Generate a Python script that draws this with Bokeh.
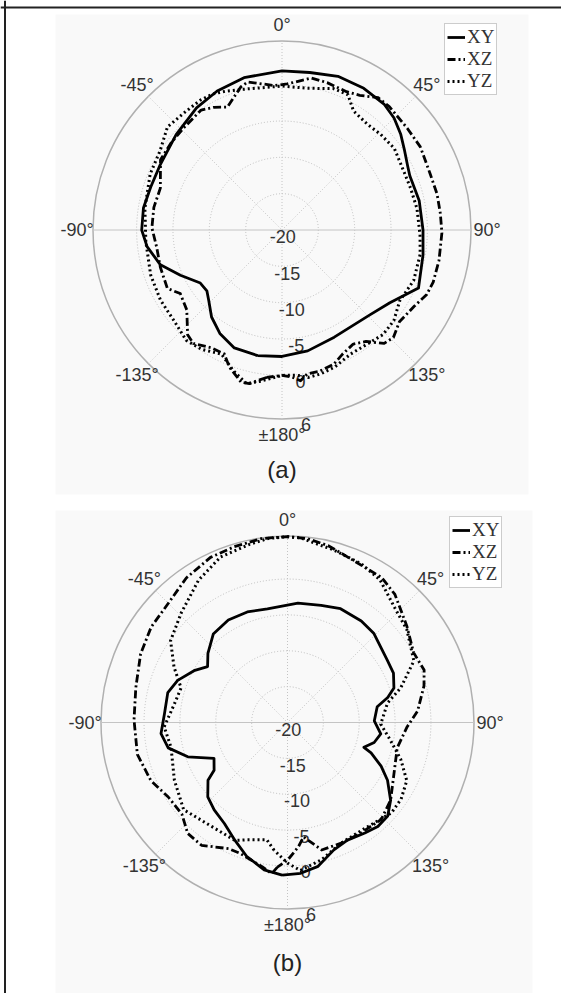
import numpy as np
from bokeh.plotting import figure
from bokeh.models import Range1d, ColumnDataSource, Legend, LegendItem, Span
from bokeh.core.properties import value
from bokeh.embed import file_html
from bokeh.resources import INLINE

# ---------------- data (angle in degrees, clockwise from top; gain in dB) ----------------
a_xy_ang = [-169, -158, -149, -141, -134, -129, -123, -114, -106, -97, -90, -81, -72, -62, -48, -35, -25, -14,
            0, 10, 20, 30, 39, 45, 51, 57, 63, 67, 78, 90, 100, 113, 124, 134, 154, 168, 180]
a_xy_db = [-2.4, -2.5, -3.4, -4.6, -6.0, -6.7, -6.6, -4.7, -2.6, -1.3, -0.7, -0.7, -1.0, -1.0, -0.4, 0.5, 1.1, 1.6,
           1.9, 2.0, 2.5, 2.5, 2.3, 1.8, 1.0, 0.1, -0.6, -0.9, -0.7, -0.6, -0.3, 0.4, -2.1, -3.2, -3.6, -3.0, -2.6]

a_xz_ang = [-174, -168, -165, -159, -155, -149, -142, -138, -130, -122, -117, -107, -98, -89, -80, -71, -60, -52,
            -44, -34, -29, -24, -20, -16, -13, -3, 2, 11, 17, 25, 30, 36, 41, 51, 59, 69, 77, 84, 91, 101, 109,
            114, 120, 128, 134, 138, 143, 148, 154, 159, 165, 170, 173, 176, 180]
a_xz_db = [0.4, 1.6, 1.7, 0.2, -1.2, -1.1, -0.2, -0.6, -2.9, -3.5, -2.3, -2.5, -2.6, -2.1, -2.1, -2.3, -0.7, -0.6,
           -0.5, -0.1, -0.7, -1.5, -0.6, 0.5, 0.9, -0.1, 0.1, 1.3, 1.2, 1.0, 1.4, 2.5, 2.5, 2.2, 2.2, 1.8, 1.9, 1.9,
           2.0, 2.0, 2.0, 1.8, 1.0, 0.5, 1.3, 1.0, -0.8, -1.5, -1.0, -0.2, 0.1, 0.1, 0.9, 0.3, 0.0]

a_yz_ang = [-172, -167, -161, -154, -146, -139, -130, -120, -109, -95, -81, -67, -57, -48, -39, -32, -27, -22, -14,
            0, 10, 20, 26, 31, 39, 46, 54, 64, 72, 81, 92, 100, 111, 121, 129, 136, 143, 151, 159, 165, 170, 174, 180]
a_yz_db = [1.0, 1.7, 0.5, -1.0, -0.2, 0.1, -0.6, -0.7, -0.9, -1.2, -0.9, -0.3, 0.0, 1.2, 1.0, 1.1, 1.0, 0.6, 0.0,
           -0.2, -0.2, 0.7, 0.7, -0.9, -1.3, -1.1, -0.9, -1.4, -1.4, -1.2, -1.0, -0.7, -0.6, -1.1, -0.2, 0.0, -0.4,
           -0.5, 0.2, 0.5, 0.6, 0.1, 0.0]

b_xy_ang = [-178, -171, -163, -156, -148, -140, -133, -126, -123, -116, -109, -102, -95, -86, -76, -69, -61, -55,
            -49, -40, -30, -20, -10, 5, 16, 25, 36, 44, 58, 65, 72, 76, 80, 89, 97, 103, 108, 110, 115, 120, 127,
            133, 139, 145, 153, 160, 168, 175]
b_xy_db = [1.3, 0.8, -0.5, -2.0, -3.4, -4.1, -4.8, -6.3, -7.8, -8.6, -5.3, -3.0, -2.3, -2.8, -2.8, -3.6, -5.1, -6.4,
           -5.3, -3.9, -3.5, -3.6, -3.9, -3.3, -3.0, -2.5, -2.5, -2.7, -3.6, -3.7, -4.4, -5.6, -7.3, -7.9, -6.9,
           -7.6, -8.8, -7.6, -5.6, -3.9, -2.0, -0.9, -0.8, -1.2, -1.6, -1.1, 0.5, 1.1]

b_xz_ang = [-176, -174, -170, -160, -155, -145, -138, -131, -122, -113, -102, -89, -77, -65, -55, -45, -35, -25,
            -17, -8, 0, 6, 13, 22, 33, 40, 51, 61, 69, 75, 85, 92, 103, 116, 127, 136, 147, 156, 165, 172, 175, 180]
b_xz_db = [0.2, 1.2, 0.4, -0.6, -0.6, 0.9, 0.8, -0.5, -0.4, 0.7, 1.4, 1.4, 1.7, 2.6, 3.2, 3.5, 4.6, 5.4,
           5.6, 5.9, 5.9, 5.8, 5.3, 4.4, 4.1, 3.3, 1.4, 0.1, 0.4, -0.3, -1.8, -3.3, -4.3, -3.5, -2.0, -1.2, -1.5,
           -1.6, -1.6, -3.9, -2.6, -0.8]

b_yz_ang = [-174, -170, -161, -156, -142, -130, -117, -102, -92, -81, -72, -64, -55, -44, -32, -22, -12, -6,
            0, 4, 15, 25, 33, 43, 52, 64, 73, 79, 91, 100, 108, 116, 124, 131, 143, 156, 166, 175, 180]
b_yz_db = [-2.1, -3.4, -2.7, -2.0, -2.0, -1.1, -2.3, -3.4, -2.8, -4.0, -4.4, -2.4, -0.1, 1.3, 3.4, 4.9, 5.4, 5.8,
           5.9, 5.8, 4.9, 4.4, 3.7, 1.9, 1.1, -0.4, -3.5, -5.8, -7.0, -5.4, -3.4, -1.5, -0.9, -0.8, -1.7, -1.6,
           -0.3, 0.7, -0.4]

series_names = ["XY", "XZ", "YZ"]
ring_values = [-20, -15, -10, -5, 0, 6]
angle_ticks = [0, 45, 90, 135, 180, -135, -90, -45]
angle_labels = ["0\u00b0", "45\u00b0", "90\u00b0", "135\u00b0", "\u00b1180\u00b0", "-135\u00b0", "-90\u00b0", "-45\u00b0"]
panel_titles = ["(a)", "(b)"]

R_MIN, R_MAX = -20, 6

# ---------------- layout (screenshot pixel coordinates) ----------------
W, H = 561, 993

panels = [
    dict(cx=281.5, cy=229.5, R=189.0, title_y=469, legend_loc=(444, H - 95),
         data=[(a_xy_ang, a_xy_db), (a_xz_ang, a_xz_db), (a_yz_ang, a_yz_db)], bg=(55, 528, 14, 494)),
    dict(cx=287.0, cy=722.0, R=186.5, title_y=962, legend_loc=(449, H - 588),
         data=[(b_xy_ang, b_xy_db), (b_xz_ang, b_xz_db), (b_yz_ang, b_yz_db)], bg=(55, 532, 510, 993)),
]

styles = [
    dict(line_color="black", line_width=2.8, line_join="round"),
    dict(line_color="black", line_width=2.8, line_dash="8 3 2 3", line_join="round"),
    dict(line_color="black", line_width=3.0, line_dash="2 3", line_join="round"),
]

FONT = value("Liberation Sans")

p = figure(width=W, height=H, x_range=Range1d(0, W), y_range=Range1d(H, 0),
           x_axis_type=None, y_axis_type=None, output_backend="svg", toolbar_location=None,
           min_border=0, background_fill_color="white", border_fill_color="white")
p.outline_line_color = None


def to_xy(ang, db, cx, cy, R):
    r = (np.asarray(db, dtype=float) - R_MIN) / (R_MAX - R_MIN) * R
    t = np.radians(np.asarray(ang, dtype=float))
    return cx + r * np.sin(t), cy - r * np.cos(t)


for pan in panels:
    cx, cy, R = pan["cx"], pan["cy"], pan["R"]
    x0, x1, y0, y1 = pan["bg"]
    p.quad(left=[x0], right=[x1], top=[y0], bottom=[y1], fill_color="#f9f9f9", line_color=None)

    # rings
    inner = [v for v in ring_values if R_MIN < v < R_MAX]
    rr = [(v - R_MIN) / (R_MAX - R_MIN) * R for v in inner]
    p.circle(x=[cx] * len(rr), y=[cy] * len(rr), radius=rr, fill_color=None,
             line_color="#bdbdbd", line_width=1, line_dash="1 2")
    p.circle(x=[cx], y=[cy], radius=[R], fill_color=None, line_color="#b0b0b0", line_width=1.5)

    # spokes
    for a in [0, 45, 90, 135]:
        t = np.radians(a)
        dash = "solid" if a == 90 else "1 2"
        p.segment(x0=[cx - R * np.sin(t)], y0=[cy + R * np.cos(t)], x1=[cx + R * np.sin(t)],
                  y1=[cy - R * np.cos(t)], line_color="#c4c4c4", line_width=1, line_dash=dash)

    # angle labels
    lx, ly = to_xy(angle_ticks, [R_MAX + 16 / R * (R_MAX - R_MIN)] * len(angle_ticks), cx, cy, R)
    p.text(x=lx, y=ly, text=angle_labels, text_font=FONT, text_font_size="18px", text_color="#333333",
           text_align="center", text_baseline="middle")

    # radial labels
    rl = [(v - R_MIN) / (R_MAX - R_MIN) * R + 7 for v in ring_values]
    t = np.radians(173)
    rx = [cx + r * np.sin(t) for r in rl]
    ry = [cy - r * np.cos(t) for r in rl]
    p.text(x=rx, y=ry, text=[str(v) for v in ring_values], text_font=FONT, text_font_size="18px",
           text_color="#333333", text_align="center", text_baseline="middle")

    # series
    items = []
    for name, (ang, db), st in zip(series_names, pan["data"], styles):
        x, y = to_xy(ang, db, cx, cy, R)
        src = ColumnDataSource(dict(x=np.append(x, x[0]), y=np.append(y, y[0])))
        r = p.line("x", "y", source=src, **st)
        items.append(LegendItem(label=name, renderers=[r]))

    leg = Legend(items=items, location=pan["legend_loc"], label_text_font="Liberation Serif",
                 label_text_font_size="19px", label_text_color="#333333", glyph_width=18, glyph_height=20,
                 label_height=20, label_standoff=2, spacing=0, padding=2, margin=0,
                 border_line_color="#999999", border_line_width=1, background_fill_color="white",
                 background_fill_alpha=1.0)
    p.add_layout(leg)

# panel titles
p.text(x=[panels[0]["cx"], panels[1]["cx"]], y=[panels[0]["title_y"], panels[1]["title_y"]], text=panel_titles,
       text_font=FONT, text_font_size="24px", text_color="#222222", text_align="center", text_baseline="middle")

# page frame (top and left rules)
p.add_layout(Span(location=7, dimension="width", line_color="#222222", line_width=2))
p.add_layout(Span(location=4.5, dimension="height", line_color="#222222", line_width=2))

open("out.html", "w").write(file_html(p, INLINE))
